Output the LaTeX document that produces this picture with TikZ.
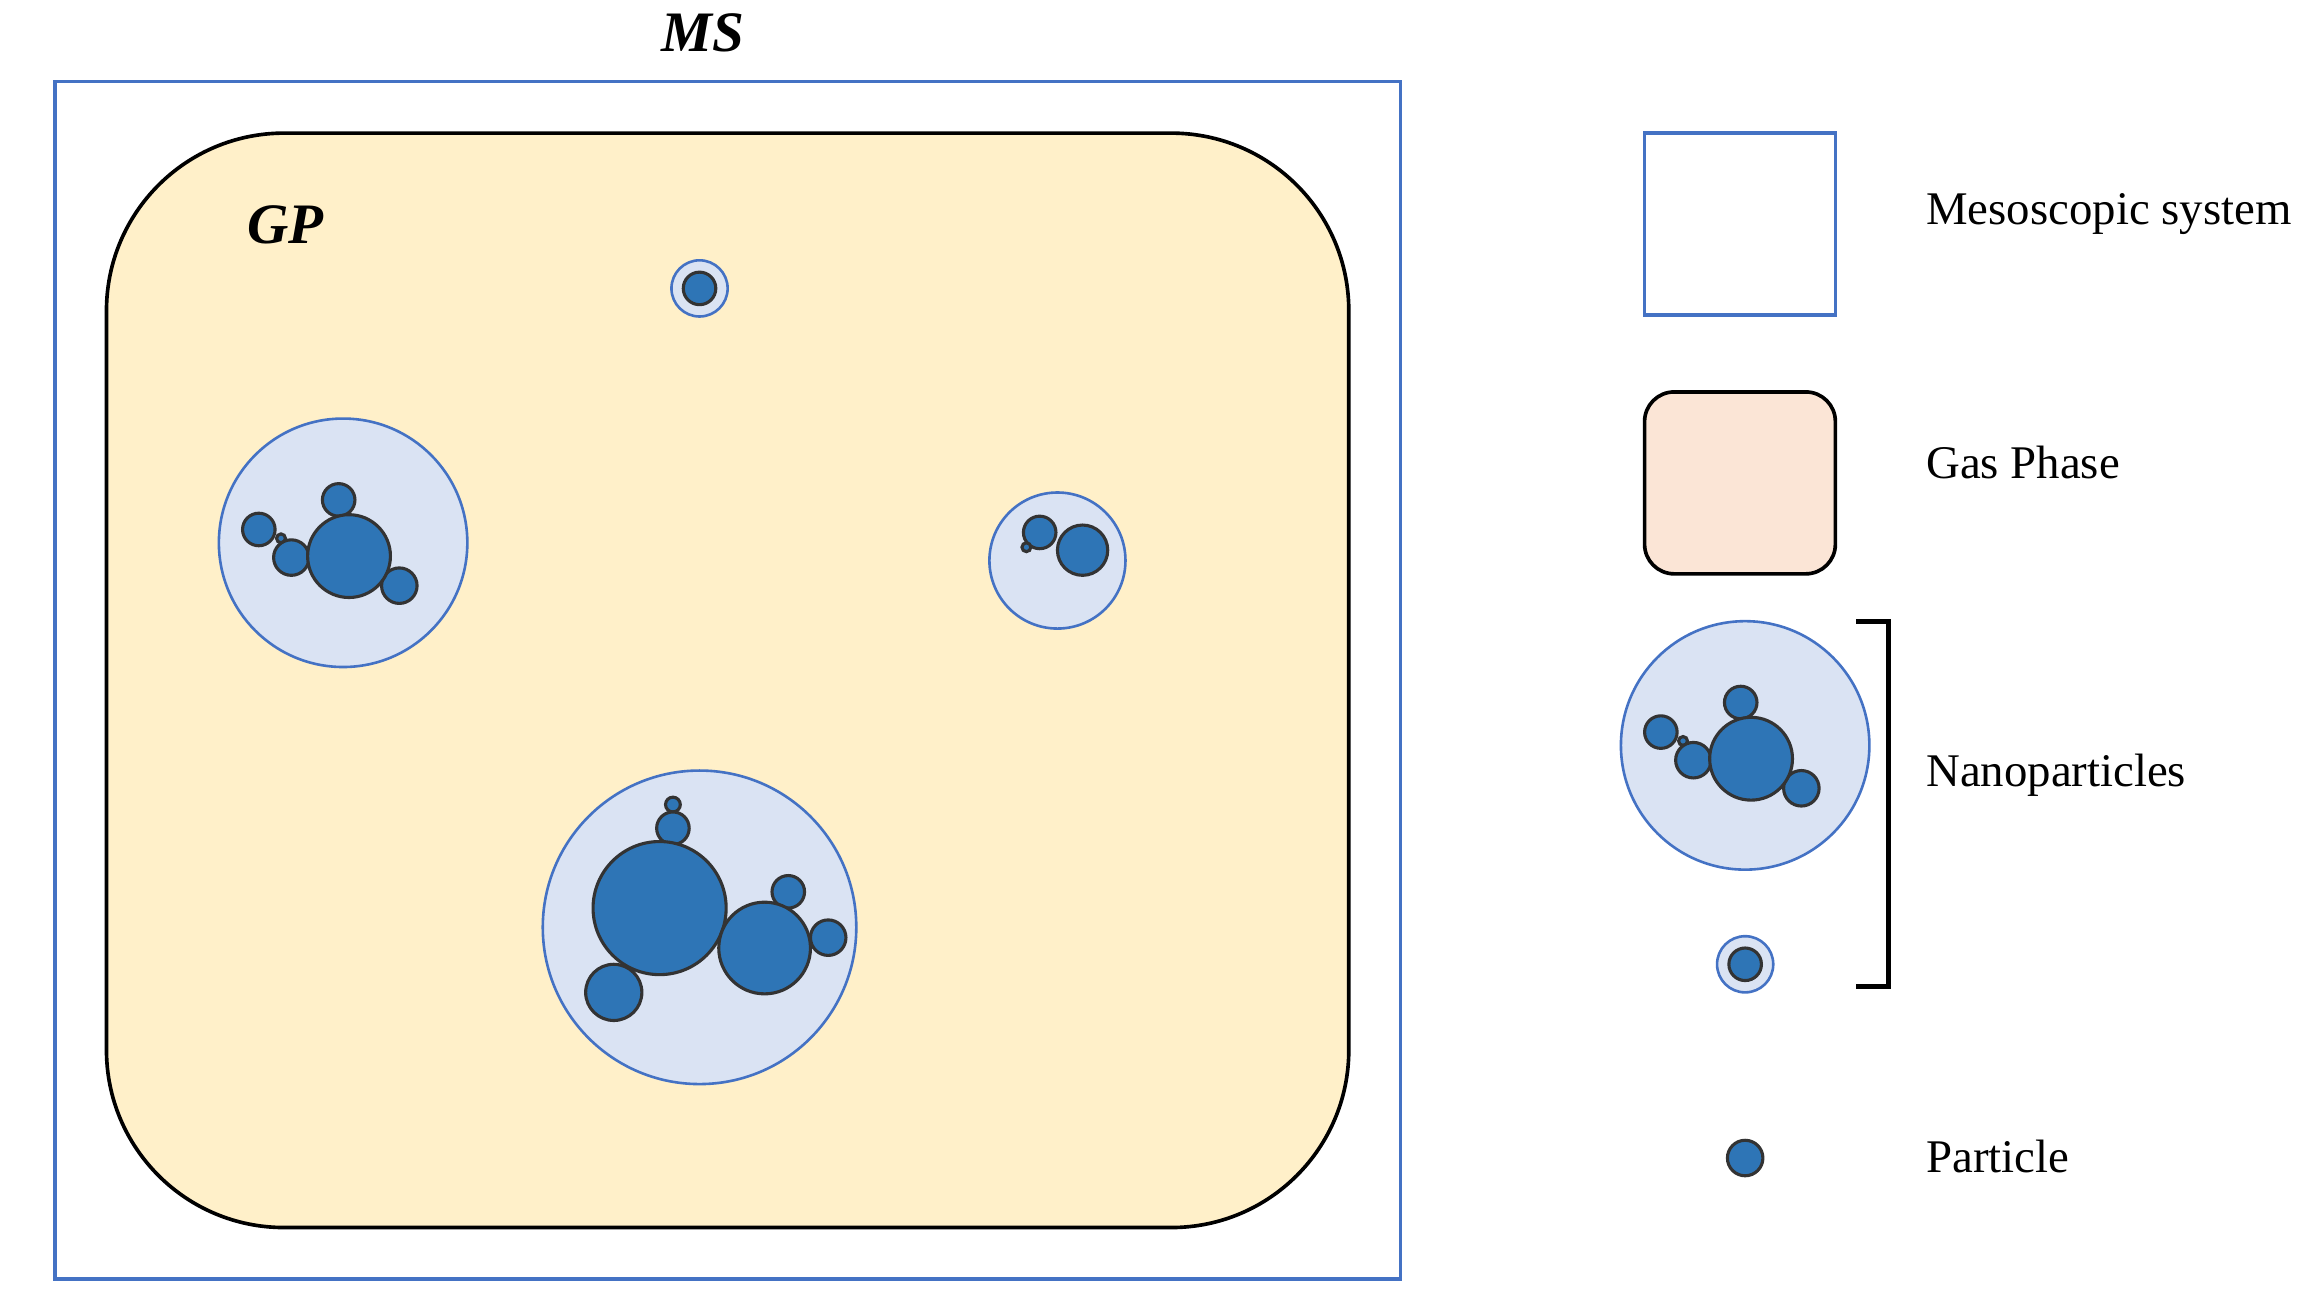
\documentclass[tikz,border=0pt]{standalone}
\usepackage{fontspec}
\setmainfont{Liberation Serif}
\definecolor{msblue}{HTML}{4472C4}
\definecolor{gas}{HTML}{FFF0C9}
\definecolor{gasleg}{HTML}{FBE5D6}
\definecolor{npfill}{HTML}{DAE3F3}
\definecolor{pfill}{HTML}{2E75B6}
\begin{document}
\begin{tikzpicture}[x=0.01cm,y=-0.01cm,
  np/.style={fill=npfill,draw=msblue,line width=0.5pt},
  pt/.style={fill=pfill,draw=black!80,line width=0.6pt},
  lab/.style={anchor=west,font=\fontsize{9}{11}\selectfont},
  ttl/.style={font=\fontsize{11}{13}\selectfont\bfseries\itshape}]
\useasboundingbox (0,0) rectangle (1568,884);
\node[ttl] (ms) at (475,22) {MS};
\draw[msblue,line width=0.7pt] (37,55) rectangle (947,865);
\draw[fill=gas,line width=0.7pt,rounded corners=1.2cm] (72,90) rectangle (912,830);
\node[ttl] (gp) at (193,152) {GP};
% small nanoparticle
\draw[np] (473,195) circle (19);
\draw[pt] (473,195) circle (11);
% cluster 1
\draw[np] (232,367) circle (84);
\draw[pt] (229,338) circle (11);
\draw[pt] (175,358) circle (11);
\draw[pt] (190,364) circle (3);
\draw[pt] (197,377) circle (12);
\draw[pt] (270,396) circle (12);
\draw[pt] (236,376) circle (28);
% cluster 2
\draw[np] (715,379) circle (46);
\draw[pt] (703,360) circle (11);
\draw[pt] (694,370) circle (3);
\draw[pt] (732,372) circle (17);
% cluster 3
\draw[np] (473,627) circle (106);
\draw[pt] (455,544) circle (5);
\draw[pt] (455,560) circle (11);
\draw[pt] (446,614) circle (45);
\draw[pt] (415,671) circle (19);
\draw[pt] (533,603) circle (11);
\draw[pt] (560,634) circle (12);
\draw[pt] (517,641) circle (31);
% legend
\draw[msblue,line width=0.7pt] (1112,90) rectangle (1241,213);
\draw[fill=gasleg,line width=0.7pt,rounded corners=0.2cm] (1112,265) rectangle (1241,388);
\begin{scope}[shift={(948,137)}]
\draw[np] (232,367) circle (84);
\draw[pt] (229,338) circle (11);
\draw[pt] (175,358) circle (11);
\draw[pt] (190,364) circle (3);
\draw[pt] (197,377) circle (12);
\draw[pt] (270,396) circle (12);
\draw[pt] (236,376) circle (28);
\end{scope}
\draw[np] (1180,652) circle (19);
\draw[pt] (1180,652) circle (11);
\draw[pt] (1180,783) circle (12);
\draw[line width=0.9pt] (1255,420) -- (1277,420) -- (1277,667) -- (1255,667);
\node[lab] (l1) at (1290,145) {Mesoscopic system};
\node[lab] (l2) at (1290,313) {Gas Phase};
\node[lab] (l3) at (1290,524) {Nanoparticles};
\node[lab] (l4) at (1290,782) {Particle};
\end{tikzpicture}
\end{document}
